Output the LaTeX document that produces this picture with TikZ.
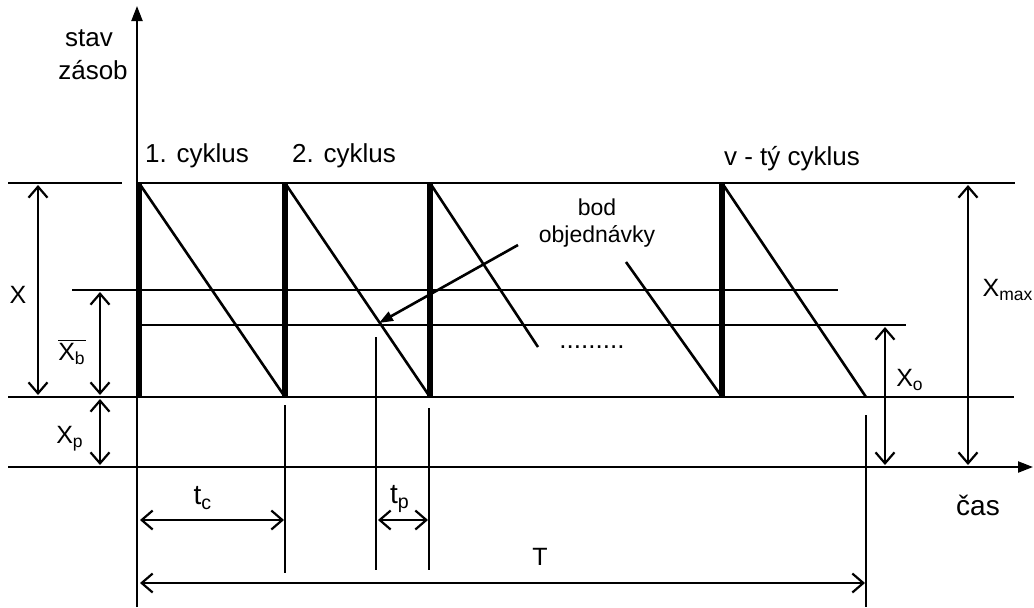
\documentclass[tikz,border=0pt]{standalone}
\usepackage{fontspec}
\setmainfont{Liberation Sans}
\usetikzlibrary{arrows.meta}

\begin{document}
\begin{tikzpicture}[
    x=0.5pt, y=-0.5pt,
    axis/.style={line width=1.1pt, -{Triangle[length=7.5pt,width=5.5pt]}},
    level/.style={line width=0.9pt},
    saw/.style={line width=1.3pt},
    jump/.style={line width=2.6pt},
    drop/.style={line width=0.9pt},
    dim/.style={line width=1.1pt, {Straight Barb[length=5.5pt,width=9.5pt]}-{Straight Barb[length=5.5pt,width=9.5pt]}},
    txt/.style={inner sep=0pt, font=\fontsize{13}{15}\selectfont},
    note/.style={inner sep=0pt, font=\fontsize{11.5}{14}\selectfont},
    sym/.style={inner sep=0pt, font=\fontsize{12.5}{15}\selectfont}
]
    \useasboundingbox (0,0) rectangle (1034,607);

    % axes
    \coordinate (ybot) at (137,607);
    \coordinate (ytop) at (137,6);
    \coordinate (xleft) at (8,467);
    \coordinate (xright) at (1033,467);
    \draw[axis] (ybot) -- (ytop);
    \draw[axis] (xleft) -- (xright);

    % stock levels
    \draw[level] (8,183) -- (122,183);
    \draw[level] (137,183) -- (1015,183);
    \draw[level] (72,290) -- (838,290);
    \draw[level] (139,325) -- (906,325);
    \draw[level] (8,397) -- (1014,397);

    % cycles
    \foreach \a/\b in {139/285, 285/430, 722/866} {
        \draw[saw] (\a,183) -- (\b,397);
    }
    \foreach \a in {139, 285, 430, 722} {
        \draw[jump] (\a,183) -- (\a,397);
    }
    \draw[saw] (430,183) -- (538,347);
    \draw[saw] (626,262) -- (722,397);
    \node[txt] (dots) at (592,347) {.........};

    % time marks
    \draw[drop] (285,405) -- (285,573);
    \draw[drop] (376,337) -- (376,570);
    \draw[drop] (429,408) -- (429,570);
    \draw[drop] (866,415) -- (866,607);

    % texts
    \node[txt] (stav) at (89,38) {stav};
    \node[txt] (zasob) at (93,70) {zásob};
    \node[txt] (cyk1) at (197,156) {1. cyklus};
    \node[txt] (cyk2) at (344,156) {2. cyklus};
    \node[txt] (cykv) at (792,159) {v - tý cyklus};
    \node[txt, font=\fontsize{14}{16}\selectfont] (cas) at (978,505) {čas};
    \node[note] (bod) at (597,207) {bod};
    \node[note] (objed) at (597,236) {objednávky};

    % reorder point
    \coordinate (bodpt) at (379,323);
    \coordinate (bodfrom) at (518,245);
    \draw[saw, -{Triangle[length=7pt,width=5pt]}] (bodfrom) -- (bodpt);

    % dimensions
    \coordinate (Xa) at (38,185);   \coordinate (Xb) at (38,395);
    \coordinate (xba) at (100,292); \coordinate (xbb) at (100,395);
    \coordinate (xpa) at (100,399); \coordinate (xpb) at (100,465);
    \coordinate (xma) at (968,185); \coordinate (xmb) at (968,465);
    \coordinate (xoa) at (885,327); \coordinate (xob) at (885,465);
    \coordinate (tca) at (140,520); \coordinate (tcb) at (284,520);
    \coordinate (tpa) at (378,520); \coordinate (tpb) at (428,520);
    \coordinate (Ta) at (140,583);  \coordinate (Tb) at (865,583);
    \draw[dim] (Xa) -- (Xb);
    \draw[dim] (xba) -- (xbb);
    \draw[dim] (xpa) -- (xpb);
    \draw[dim] (xma) -- (xmb);
    \draw[dim] (xoa) -- (xob);
    \draw[dim] (tca) -- (tcb);
    \draw[dim] (tpa) -- (tpb);
    \draw[dim] (Ta) -- (Tb);

    \node[sym] (lX) at (18,295) {X};
    \node[sym] (lxb) at (72,352) {$\overline{\mbox{X\textsubscript{b}}}$};
    \node[sym] (lxp) at (70,439) {X\textsubscript{p}};
    \node[sym] (lxm) at (1008,290) {X\textsubscript{max}};
    \node[sym] (lxo) at (910,380) {X\textsubscript{o}};
    \node[sym, font=\fontsize{14}{16}\selectfont] (ltc) at (203,498) {t\textsubscript{c}};
    \node[sym, font=\fontsize{14}{16}\selectfont] (ltp) at (400,499) {t\textsubscript{p}};
    \node[sym] (lT) at (540,557) {T};
\end{tikzpicture}
\end{document}
